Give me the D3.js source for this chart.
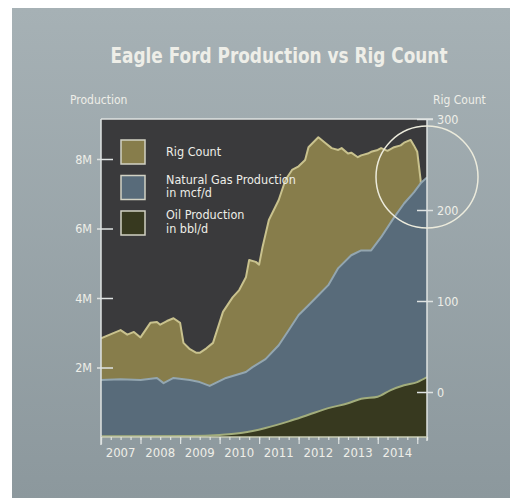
<!DOCTYPE html>
<html>
<head>
<meta charset="UTF-8">
<title>Eagle Ford Production vs Rig Count</title>
<script src="https://cdnjs.cloudflare.com/ajax/libs/d3/7.8.5/d3.min.js"></script>
<style>
  body { margin: 0; background: #fff; }
  svg text { font-family: "DejaVu Sans", "Liberation Sans Narrow", sans-serif; font-stretch: condensed; fill: #eeeee8; }
</style>
</head>
<body>
<script>

// rig count (right axis)
var rigDates = ["2007-01","2007-05","2007-07","2007-09","2007-11","2008-01","2008-04","2008-06","2008-07","2008-09","2008-11",
                "2009-01","2009-02","2009-04","2009-06","2009-07","2009-09","2009-11","2010-02","2010-05","2010-07","2010-09",
                "2010-10","2010-12","2011-01","2011-02","2011-04","2011-07","2011-09","2011-11","2012-01","2012-03","2012-04",
                "2012-07","2012-09","2012-11","2013-01","2013-02","2013-04","2013-05","2013-07","2013-08","2013-10","2013-11",
                "2014-01","2014-02","2014-04","2014-06","2014-08","2014-09","2014-11","2014-12","2015-01","2015-02","2015-03","2015-04"];
var rigCount = [59,65,68,63,66,60,76,77,74,78,81,
                76,54,47,43,43,48,54,88,104,112,126,
                145,143,140,159,189,211,233,244,248,255,269,
                280,274,268,266,268,262,263,258,260,262,264,
                266,268,265,269,271,274,277,271,264,233,183,180];

// natural gas production, mcf/d (left axis)
var gasDates = ["2007-01","2007-07","2008-01","2008-06","2008-08","2008-11","2009-04","2009-07","2009-10","2010-03",
                "2010-09","2010-11","2011-03","2011-07","2011-10","2012-01","2012-04","2012-07","2012-10","2013-01",
                "2013-05","2013-08","2013-11","2014-02","2014-06","2014-09","2014-12","2015-02","2015-04"];
var gasProd = [1.64,1.66,1.64,1.70,1.55,1.70,1.64,1.58,1.47,1.70,
               1.87,2.01,2.24,2.64,3.07,3.51,3.79,4.08,4.37,4.86,
               5.23,5.37,5.37,5.75,6.32,6.72,7.04,7.30,7.47];

// oil production, bbl/d (left axis)
var oilDates = ["2007-01","2009-04","2010-01","2010-08","2011-03","2011-10","2012-04","2012-10","2013-04","2013-08",
                "2014-01","2014-05","2014-09","2015-01","2015-04"];
var oilProd = [0.02,0.03,0.06,0.12,0.26,0.45,0.64,0.83,0.97,1.10,
               1.16,1.35,1.49,1.58,1.72];

var yearLabels = ["2007","2008","2009","2010","2011","2012","2013","2014"];
var leftTicks = [2, 4, 6, 8];
var rightTicks = [0, 100, 200, 300];

var W = 510, H = 498;
var plot = {left: 101, right: 427, top: 119, bottom: 437};

var parse = d3.timeParse("%Y-%m");

var svg = d3.select("body").append("svg")
    .attr("width", W)
    .attr("height", H);

var defs = svg.append("defs");
var grad = defs.append("linearGradient").attr("id", "bg")
    .attr("x1", 0).attr("y1", 0).attr("x2", 0).attr("y2", 1);
grad.append("stop").attr("offset", "0%").attr("stop-color", "#a6b1b5");
grad.append("stop").attr("offset", "100%").attr("stop-color", "#8c989d");

defs.append("clipPath").attr("id", "clip")
  .append("rect")
    .attr("x", plot.left).attr("y", plot.top)
    .attr("width", plot.right - plot.left).attr("height", plot.bottom - plot.top);

// panel
svg.append("rect")
    .attr("x", 12).attr("y", 8)
    .attr("width", W - 12).attr("height", H - 8)
    .attr("fill", "url(#bg)");

var x = d3.scaleTime()
    .domain([parse("2007-01"), parse("2015-04")])
    .range([plot.left, plot.right]);

var yL = d3.scaleLinear().domain([0, 8]).range([plot.bottom, 159]);
var yR = d3.scaleLinear().domain([0, 300]).range([392, plot.top]);

function zipSeries(dates, vals) {
    return dates.map(function(d, i) { return {date: parse(d), v: vals[i]}; });
}
var rig = zipSeries(rigDates, rigCount);
var gas = zipSeries(gasDates, gasProd);
var oil = zipSeries(oilDates, oilProd);

// plot background
svg.append("rect")
    .attr("x", plot.left).attr("y", plot.top)
    .attr("width", plot.right - plot.left).attr("height", plot.bottom - plot.top)
    .attr("fill", "#3a3a3c");

var g = svg.append("g").attr("clip-path", "url(#clip)");

function drawSeries(data, yScale, fill, stroke, curve) {
    var area = d3.area()
        .x(function(d) { return x(d.date); })
        .y0(plot.bottom)
        .y1(function(d) { return yScale(d.v); })
        .curve(curve);
    var line = d3.line()
        .x(function(d) { return x(d.date); })
        .y(function(d) { return yScale(d.v); })
        .curve(curve);
    g.append("path").datum(data).attr("d", area).attr("fill", fill);
    g.append("path").datum(data).attr("d", line)
        .attr("fill", "none").attr("stroke", stroke).attr("stroke-width", 2)
        .attr("stroke-linejoin", "round");
}

drawSeries(rig, yR, "#877d4b", "#c9c28e", d3.curveLinear);
drawSeries(gas, yL, "#586b7a", "#93a6b0", d3.curveLinear);
drawSeries(oil, yL, "#37391f", "#a2ad7c", d3.curveMonotoneX);

// frame lines
var frameColor = "#dfe3e2";
svg.append("line")
    .attr("x1", plot.left).attr("x2", plot.right + 6)
    .attr("y1", plot.top).attr("y2", plot.top)
    .attr("stroke", frameColor).attr("stroke-width", 1.5);
svg.append("line")
    .attr("x1", plot.left).attr("x2", plot.left)
    .attr("y1", plot.top).attr("y2", plot.bottom + 8)
    .attr("stroke", frameColor).attr("stroke-width", 1.5);
svg.append("line")
    .attr("x1", plot.right).attr("x2", plot.right)
    .attr("y1", plot.top).attr("y2", plot.bottom + 4)
    .attr("stroke", frameColor).attr("stroke-width", 1.5);
svg.append("line")
    .attr("x1", plot.left).attr("x2", plot.right)
    .attr("y1", plot.bottom).attr("y2", plot.bottom)
    .attr("stroke", "#c9ccb4").attr("stroke-width", 1.5);

// left axis
var leftAxis = svg.append("g")
    .attr("transform", "translate(" + 113 + ",0)")
    .call(d3.axisLeft(yL).tickValues(leftTicks)
        .tickFormat(function(d) { return d + "M"; })
        .tickSize(16).tickPadding(5));
leftAxis.select(".domain").remove();

// right axis
var rightAxis = svg.append("g")
    .attr("transform", "translate(" + 417 + ",0)")
    .call(d3.axisRight(yR).tickValues(rightTicks).tickSize(16).tickPadding(4));
rightAxis.select(".domain").remove();

[leftAxis, rightAxis].forEach(function(a) {
    a.selectAll("line").attr("stroke", frameColor).attr("stroke-width", 1.5);
    a.selectAll("text").style("font-size", "12.5px")
        .style("font-family", null).attr("fill", "#eeeee8");
});

// bottom axis: quarter ticks, year ticks, labels centered in years
var minorAxis = svg.append("g")
    .attr("transform", "translate(0," + plot.bottom + ")")
    .call(d3.axisBottom(x).ticks(d3.timeMonth.every(3)).tickSize(3).tickFormat(""));
minorAxis.select(".domain").remove();
var yearAxis = svg.append("g")
    .attr("transform", "translate(0," + plot.bottom + ")")
    .call(d3.axisBottom(x).ticks(d3.timeYear.every(1)).tickSize(7).tickFormat(""));
yearAxis.select(".domain").remove();
[minorAxis, yearAxis].forEach(function(a) {
    a.selectAll("line").attr("stroke", frameColor).attr("stroke-width", 1.2);
});

svg.append("g").selectAll("text")
    .data(yearLabels)
    .enter().append("text")
    .attr("x", function(d) { return x(parse(d + "-07")); })
    .attr("y", plot.bottom + 20)
    .attr("text-anchor", "middle")
    .style("font-size", "13px")
    .text(function(d) { return d; });

// title and axis titles
svg.append("text")
    .attr("x", 279).attr("y", 63)
    .attr("text-anchor", "middle")
    .attr("textLength", 337).attr("lengthAdjust", "spacingAndGlyphs")
    .style("font-size", "22px").style("font-weight", "bold")
    .attr("fill", "#f6f6f2")
    .text("Eagle Ford Production vs Rig Count");

svg.append("text")
    .attr("x", 70).attr("y", 104)
    .style("font-size", "12px")
    .text("Production");

svg.append("text")
    .attr("x", 433).attr("y", 104)
    .style("font-size", "12px")
    .text("Rig Count");

// legend
var legendItems = [
    {fill: "#877d4b", lines: ["Rig Count"]},
    {fill: "#586b7a", lines: ["Natural Gas Production", "in mcf/d"]},
    {fill: "#37391f", lines: ["Oil Production", "in bbl/d"]}
];
var legend = svg.append("g");
legendItems.forEach(function(item, i) {
    var top = 140 + i * 35.5;
    legend.append("rect")
        .attr("x", 121).attr("y", top)
        .attr("width", 24).attr("height", 24)
        .attr("fill", item.fill)
        .attr("stroke", "#d2d2c4").attr("stroke-width", 1.5);
    var startY = item.lines.length === 1 ? top + 16 : top + 8;
    item.lines.forEach(function(t, j) {
        legend.append("text")
            .attr("x", 166).attr("y", startY + j * 13.5)
            .style("font-size", "12.5px")
            .text(t);
    });
});

// highlight circle
svg.append("circle")
    .attr("cx", x(parse("2015-04"))).attr("cy", 177)
    .attr("r", 51)
    .attr("fill", "none")
    .attr("stroke", "#ecebdc").attr("stroke-width", 1.5);

</script>
</body>
</html>
